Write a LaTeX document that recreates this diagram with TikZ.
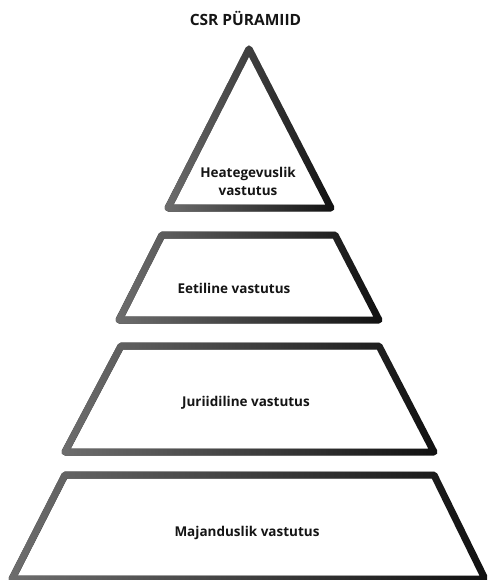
\documentclass[tikz,border=0pt]{standalone}
\usepackage{fontspec}
\setmainfont{Open Sans}
\usetikzlibrary{fadings}
\tikzfading[name=grayfade, left color=transparent!0, right color=transparent!100]
\definecolor{tierdark}{HTML}{111111}
\definecolor{tierlight}{HTML}{6E6E6E}
\definecolor{txt}{HTML}{151515}
\newcommand\gradtier[1]{%
  \draw[tier, tierdark] #1;
  \draw[tier, tierlight, path fading=grayfade] #1;}
\begin{document}
\begin{tikzpicture}[x=1pt,y=-1pt,
  tier/.style={line width=7pt, line join=round},
  lbl/.style={font=\bfseries\fontsize{13.5}{18}\selectfont, align=center, text=txt, inner sep=0pt},
  ttl/.style={font=\bfseries\fontsize{15.5}{18}\selectfont, text=txt, inner sep=0pt}]
\useasboundingbox (0,0) rectangle (487,580);
\clip (0,0) rectangle (487,580);
\fill[white] (0,0) rectangle (487,580);
% tiers
\gradtier{(249,49) -- (331,208) -- (168,208) -- cycle}
\gradtier{(162,235) -- (335,235) -- (379,320) -- (119,320) -- cycle}
\gradtier{(121,346) -- (379,346) -- (434,452) -- (65,452) -- cycle}
\gradtier{(65,475) -- (434,475) -- (485,579) -- (12,579) -- cycle}
% labels
\node[ttl] (title) at (245.5,18) {CSR PÜRAMIID};
\node[lbl] (t1) at (248,181) {Heategevuslik\\vastutus};
\node[lbl] (t2) at (234,288) {Eetiline vastutus};
\node[lbl] (t3) at (246,403) {Juriidiline vastutus};
\node[lbl] (t4) at (247,533) {Majanduslik vastutus};
\end{tikzpicture}
\end{document}
